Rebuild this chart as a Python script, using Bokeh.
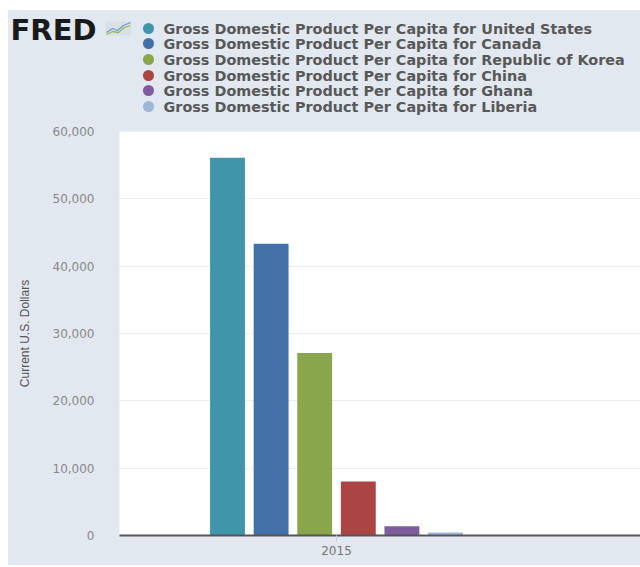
from bokeh.plotting import figure
from bokeh.layouts import column
from bokeh.models import Range1d, FixedTicker, NumeralTickFormatter
from bokeh.core.properties import value
from bokeh.embed import file_html
from bokeh.resources import INLINE

year_label = "2015"
countries = ["United States", "Canada", "Republic of Korea", "China", "Ghana", "Liberia"]
gdp_per_capita_2015 = [56116, 43316, 27105, 8033, 1370, 456]
colors = ["#4095aa", "#4370a6", "#89a64c", "#aa4544", "#7d5c9f", "#9db6da"]
y_ticks = [0, 10000, 20000, 30000, 40000, 50000, 60000]
series_prefix = "Gross Domestic Product Per Capita for "

BG = "#e1e8f0"

# ---------- header (logo + legend) ----------
HW, HH = 632, 111          # page x 8..640, page y 10..121
ML, MT = 8, 10
hdr = figure(width=HW, height=HH, output_backend="svg", toolbar_location=None,
             x_range=Range1d(0, HW), y_range=Range1d(HH, 0),
             min_border=0, background_fill_color=BG, border_fill_color=BG,
             outline_line_color=None, margin=0, frame_align=False)
hdr.axis.visible = False
hdr.grid.visible = False

hdr.text(x=[10 - ML], y=[29 - MT], text=["FRED"], text_font=value("DejaVu Sans"),
         text_font_style="bold", text_font_size="29px", text_color="#1a1a1a",
         text_baseline="middle", text_align="left")
# small chart icon next to the logo
hdr.quad(left=[105 - ML], right=[131 - ML], top=[21 - MT], bottom=[35 - MT],
         fill_color="#d9dfe6", line_color=None)
hdr.line(x=[106 - ML, 112 - ML, 117 - ML, 123 - ML, 130 - ML],
         y=[32 - MT, 28 - MT, 30 - MT, 25 - MT, 22 - MT], line_color="#6b9fd0", line_width=1.3)
hdr.line(x=[106 - ML, 112 - ML, 118 - ML, 124 - ML, 130 - ML],
         y=[34 - MT, 31 - MT, 32 - MT, 27 - MT, 25 - MT], line_color="#8fbf55", line_width=1.3)

row_y = [28 - MT, 43 - MT, 59 - MT, 75 - MT, 90 - MT, 106 - MT]
hdr.scatter(x=[148 - ML] * len(countries), y=row_y, size=11, color=colors, line_color=None)
hdr.text(x=[163 - ML] * len(countries), y=row_y, text=[series_prefix + c for c in countries],
         text_font=value("DejaVu Sans"), text_font_style="bold", text_font_size="14.4px",
         text_color="#585858", text_baseline="middle", text_align="left")

# ---------- chart ----------
p = figure(width=632, height=444, output_backend="svg", toolbar_location=None,
           x_range=Range1d(-4.977, 6.972), y_range=Range1d(0, 60000),
           min_border_left=111, min_border_top=10, min_border_bottom=30, min_border_right=0,
           background_fill_color="white", border_fill_color=BG, outline_line_color=None,
           margin=0, frame_align=False)

n = len(countries)
xs = [i - (n - 1) / 2 for i in range(n)]
p.vbar(x=xs, top=gdp_per_capita_2015, width=0.8, color=colors, line_color=None)

p.yaxis.ticker = FixedTicker(ticks=y_ticks)
p.yaxis.formatter = NumeralTickFormatter(format="0,0")
p.yaxis.axis_line_color = None
p.yaxis.major_tick_line_color = None
p.yaxis.minor_tick_line_color = None
p.yaxis.major_label_standoff = 19
p.yaxis.major_label_text_color = "#888888"
p.yaxis.major_label_text_font = "DejaVu Sans"
p.yaxis.major_label_text_font_size = "12px"
p.yaxis.axis_label = "Current U.S. Dollars"
p.yaxis.axis_label_text_font = "Liberation Sans"
p.yaxis.axis_label_text_font_style = "normal"
p.yaxis.axis_label_text_font_size = "12px"
p.yaxis.axis_label_text_color = "#555555"
p.yaxis.axis_label_standoff = 18

p.xaxis.ticker = FixedTicker(ticks=[0])
p.xaxis.major_label_overrides = {0: year_label}
p.xaxis.axis_line_color = "#555555"
p.xaxis.axis_line_width = 2
p.xaxis.major_tick_line_color = "#c5d3e3"
p.xaxis.major_tick_out = 6
p.xaxis.major_tick_in = 0
p.xaxis.minor_tick_line_color = None
p.xaxis.major_label_standoff = 4
p.xaxis.major_label_text_color = "#777777"
p.xaxis.major_label_text_font = "DejaVu Sans"
p.xaxis.major_label_text_font_size = "12px"

p.xgrid.grid_line_color = None
p.ygrid.grid_line_color = "#eeeeee"
p.ygrid.ticker = FixedTicker(ticks=y_ticks)

layout = column(hdr, p, spacing=0, margin=(MT, 0, 2, ML), styles={"background-color": BG})
open("out.html", "w").write(file_html(layout, INLINE))
